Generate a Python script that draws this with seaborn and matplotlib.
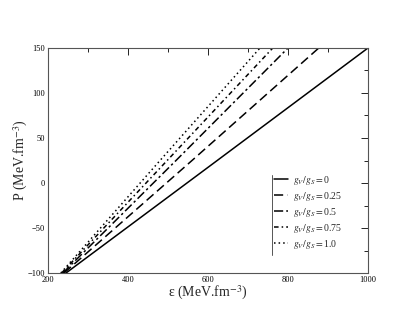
import numpy as np
import matplotlib
matplotlib.use("Agg")
import matplotlib.pyplot as plt
import seaborn as sns
import pandas as pd
from matplotlib.ticker import MultipleLocator

# energy density (MeV fm^-3) and pressure
ratios = ["0", "0.25", "0.5", "0.75", "1.0"]
eps_0 = [245, 620, 1000]
p_0 = [-100, 24, 150]
eps_025 = [240, 560, 877]
p_025 = [-100, 25, 150]
eps_05 = [237, 520, 800]
p_05 = [-100, 25, 150]
eps_075 = [234, 500, 762]
p_075 = [-100, 26, 150]
eps_10 = [232, 480, 730]
p_10 = [-100, 25, 150]

frames = []
for r, e, p in zip(ratios, [eps_0, eps_025, eps_05, eps_075, eps_10],
                   [p_0, p_025, p_05, p_075, p_10]):
    frames.append(pd.DataFrame({"eps": e, "P": p, "ratio": r}))
df = pd.concat(frames, ignore_index=True)

sns.set_style("white")
plt.rcParams["font.family"] = ["Liberation Serif", "DejaVu Serif"]
plt.rcParams["mathtext.fontset"] = "stix"

fig = plt.figure(figsize=(4.15, 3.21), dpi=100)
ax = fig.add_axes([0.1157, 0.1495, 0.771, 0.701])

styles = {"0": "-", "0.25": (0, (6, 3)), "0.5": (0, (6, 2, 1.5, 2)),
          "0.75": (0, (3, 2, 1, 2)), "1.0": (0, (1, 2))}
for r in ratios:
    sub = df[df["ratio"] == r]
    sns.lineplot(data=sub, x="eps", y="P", ax=ax, color="black", lw=1.1,
                 linestyle=styles[r], label=r"$g_V/g_S = $" + r)

ax.set_xlim(200, 1000)
ax.set_ylim(-100, 150)
ax.xaxis.set_major_locator(MultipleLocator(200))
ax.xaxis.set_minor_locator(MultipleLocator(100))
ax.yaxis.set_major_locator(MultipleLocator(50))
ax.yaxis.set_minor_locator(MultipleLocator(25))
ax.tick_params(which="both", direction="in", top=True, right=True,
               labelsize=6, pad=2, colors="black", width=0.6)
ax.tick_params(which="major", length=5)
ax.tick_params(which="minor", length=3)
for s in ax.spines.values():
    s.set_color("#555555")
    s.set_linewidth(0.8)

ax.set_xlabel(r"ε (MeV.fm$^{-3}$)", fontsize=10)
ax.set_ylabel(r"P (MeV.fm$^{-3}$)", fontsize=10)
ax.xaxis.set_label_coords(0.5, -0.05)
ax.yaxis.set_label_coords(-0.057, 0.5)

leg = ax.legend(loc="lower left", bbox_to_anchor=(0.705, 0.1), frameon=False,
                fontsize=7, handlelength=1.5, handletextpad=0.5,
                labelspacing=0.3, borderaxespad=0, borderpad=0)
ax.plot([0.70, 0.70], [0.08, 0.435], transform=ax.transAxes,
        color="#555555", lw=0.7, clip_on=False)

fig.savefig("out.png", dpi=100)
